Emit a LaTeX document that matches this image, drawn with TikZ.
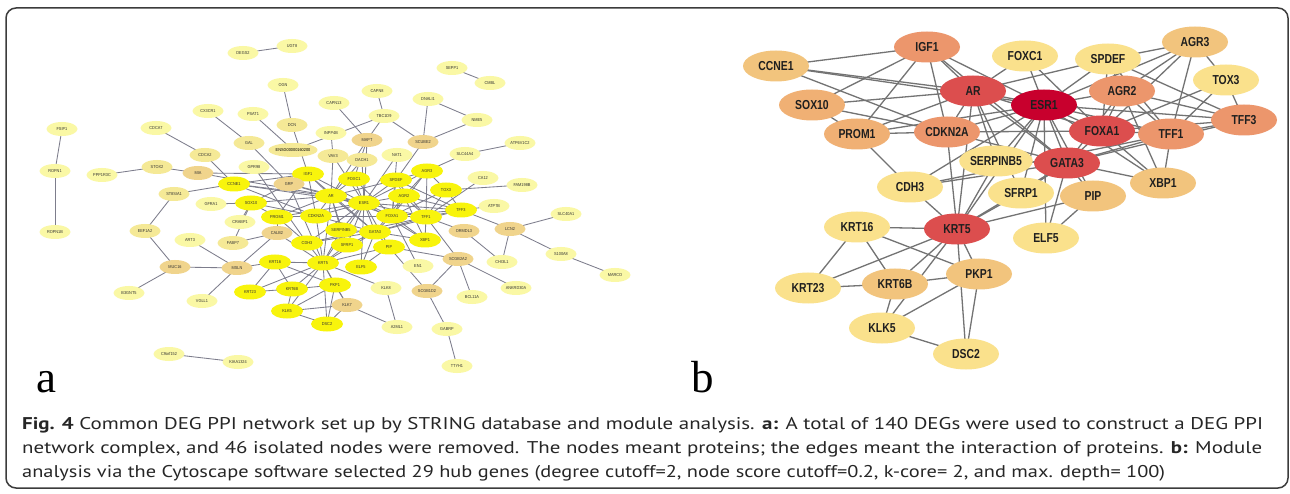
\documentclass[tikz,border=0pt]{standalone}
\usepackage{fontspec}
\usepackage{graphicx}
\setmainfont{PT Sans}
\newfontfamily\nodefont[FakeStretch=0.8]{Liberation Sans}
\newfontfamily\tinyfont[FakeStretch=0.9]{Liberation Sans}
\newfontfamily\labfont{Liberation Serif}
\usetikzlibrary{shapes.geometric}
\pgfdeclarelayer{bg}
\pgfdeclarelayer{edges}
\pgfsetlayers{bg,edges,main}
% panel a colours
\definecolor{cY}{RGB}{248,244,12}
\definecolor{cL}{RGB}{250,248,165}
\definecolor{cM}{RGB}{245,233,150}
\definecolor{cT}{RGB}{240,212,140}
\definecolor{aedgecol}{RGB}{125,125,140}
% panel b colours
\definecolor{bA}{RGB}{200,0,45}
\definecolor{bB}{RGB}{220,78,78}
\definecolor{bC}{RGB}{236,150,108}
\definecolor{bD}{RGB}{240,176,116}
\definecolor{bE}{RGB}{242,196,125}
\definecolor{bF}{RGB}{250,225,140}
\definecolor{bedgecol}{RGB}{115,115,115}
\definecolor{framecol}{RGB}{60,60,60}
\newsavebox{\capbox}
\newcommand{\capline}[2]{\sbox{\capbox}{#2}\scalebox{\fpeval{#1/(\the\wd\capbox)}}[1]{\usebox{\capbox}}}
\tikzset{
  na/.style={ellipse, minimum width=31pt, minimum height=14pt, inner sep=0pt,
    font={\tinyfont\fontsize{4.3pt}{5pt}\selectfont}, text=black!80},
  aY/.style={na, fill=cY, minimum width=32pt, minimum height=15pt},
  aL/.style={na, fill=cL},
  aM/.style={na, fill=cM},
  aT/.style={na, fill=cT},
  nb/.style={ellipse, minimum width=66pt, minimum height=31pt, inner sep=0pt,
    font={\nodefont\bfseries\fontsize{13pt}{15pt}\selectfont}, text=black!88},
  bnA/.style={nb, fill=bA},
  bnB/.style={nb, fill=bB},
  bnC/.style={nb, fill=bC},
  bnD/.style={nb, fill=bD},
  bnE/.style={nb, fill=bE},
  bnF/.style={nb, fill=bF},
  aedge/.style={draw=aedgecol, line width=0.85pt},
  bedge/.style={draw=bedgecol, line width=1.3pt},
  panellab/.style={anchor=base west, font={\labfont\fontsize{45pt}{50pt}\selectfont}},
  capnode/.style={anchor=base west, inner sep=0pt, font={\fontsize{17pt}{20pt}\selectfont}, text=black!85}
}
\def\hubedges{CCNE1/IGF1, CCNE1/AR, CCNE1/ESR1, CCNE1/CDKN2A,
IGF1/SOX10, IGF1/PROM1, IGF1/CDKN2A, IGF1/AR, IGF1/ESR1, IGF1/GATA3,
SOX10/AR, SOX10/PROM1, SOX10/CDKN2A,
PROM1/CDKN2A, PROM1/AR, PROM1/ESR1, PROM1/CDH3,
CDKN2A/AR, CDKN2A/ESR1, CDKN2A/GATA3, CDKN2A/FOXA1, CDKN2A/KRT5,
AR/FOXC1, AR/ESR1, AR/GATA3, AR/FOXA1, AR/KRT5, AR/SERPINB5, AR/SPDEF, AR/SFRP1,
FOXC1/ESR1, FOXC1/FOXA1,
ESR1/SPDEF, ESR1/AGR2, ESR1/AGR3, ESR1/FOXA1, ESR1/TFF1, ESR1/TFF3, ESR1/GATA3, ESR1/XBP1, ESR1/PIP, ESR1/ELF5, ESR1/SFRP1, ESR1/SERPINB5, ESR1/CDH3, ESR1/KRT5,
SPDEF/AGR2, SPDEF/AGR3, SPDEF/FOXA1, SPDEF/TFF1, SPDEF/TFF3,
AGR3/AGR2, AGR3/FOXA1, AGR3/TFF1, AGR3/TOX3,
TOX3/TFF1, TOX3/FOXA1, TOX3/TFF3,
AGR2/FOXA1, AGR2/TFF1, AGR2/TFF3, AGR2/XBP1, AGR2/GATA3,
FOXA1/TFF1, FOXA1/TFF3, FOXA1/GATA3, FOXA1/XBP1,
TFF1/TFF3, TFF1/XBP1, TFF1/GATA3, TFF1/CDH3,
TFF3/GATA3,
GATA3/XBP1, GATA3/PIP, GATA3/ELF5, GATA3/SFRP1, GATA3/SERPINB5, GATA3/CDH3, GATA3/KRT5,
SERPINB5/KRT5, SFRP1/KRT5, CDH3/KRT5, PIP/KRT5, PIP/ELF5,
KRT5/KRT16, KRT5/KRT23, KRT5/KRT6B, KRT5/PKP1, KRT5/KLK5, KRT5/DSC2,
KRT16/KRT23, KRT16/KRT6B, KRT16/PKP1,
KRT23/KRT6B, KRT6B/PKP1, KRT6B/KLK5, PKP1/KLK5, PKP1/DSC2, KLK5/DSC2}
\def\aedges{DEGS2/UGT8, SEPP1/CMBL, FSIP1/ROPN1, ROPN1/ROPN1B, C9orf152/KIAA1324,
OGN/DCN, DCN/IGF1, CAPN13/MAPT, CX3CR1/GAL, GAL/GRP, PSAT1/ENSG, ENSG/TBC1D9,
INPP4B/VAV3, VAV3/AR, VAV3/ESR1, CAPN8/TBC1D9, TBC1D9/MAPT, TBC1D9/SCUBE2,
DNALI1/SCUBE2, DNALI1/NME5, NME5/SCUBE2, SCUBE2/SPDEF, MAPT/ESR1, MAPT/FOXC1, MAPT/AR,
NAT1/ESR1, NAT1/FOXA1, DACH1/ESR1, DACH1/AR, SLC44A4/AGR3, SLC44A4/ATP6V1C2,
FAM198B/TOX3, CA12/TFF1, TFF3/LCN2, ATP7B/TFF3, LCN2/SLC40A1, LCN2/CHI3L1, LCN2/S100A8,
S100A8/MARCO, ORMDL3/CHI3L1, TFF1/ORMDL3, TFF1/SCGB2A2, PIP/SCGB2A2, SCGB2A2/SCGB1D2,
SCGB2A2/BCL11A, SCGB2A2/ANKRD30A, PIP/SCGB1D2, FOXA1/EN1, SCGB1D2/GABRP, GABRP/TTYH1,
KLK8/A2ML1, KLK7/A2ML1, KRT5/KLK8, KRT5/KLK7, PKP1/KLK7, KLK5/KLK7, DSC2/KLK7,
MSLN/MUC16, MSLN/ART3, MSLN/VGLL1, MSLN/CALB2, MSLN/KRT16, MUC16/EEF1A2, MUC16/B3GNT5,
EEF1A2/ST8SIA1, ST8SIA1/CCNE1, GFRA1/SOX10, CRABP1/SOX10, FABP7/SOX10, FABP7/CALB2,
CALB2/PROM1, CALB2/KRT5, STOX2/PPP1R3C, STOX2/MIA, MIA/IGF1, MIA/AR, CDCA7/CDCA2,
CDCA2/CCNE1, GRP/AR, GRP/ESR1, GRP/KRT5, GPR98/CDH3}
\begin{document}
\begin{tikzpicture}[x=1pt,y=-1pt]
\useasboundingbox (0,0) rectangle (1290,494);
\begin{pgfonlayer}{bg}
\fill[white] (0,0) rectangle (1290,494);
\end{pgfonlayer}
\draw[framecol, line width=1.5pt, rounded corners=10pt] (6,8) rectangle (1288,488);

%%% ---------------- panel a ----------------
% hub genes
\node[aY] (a-IGF1) at (308,174) {IGF1};
\node[aY] (a-CCNE1) at (234,184) {CCNE1};
\node[aY] (a-AR) at (331,196) {AR};
\node[aY] (a-FOXC1) at (354,179) {FOXC1};
\node[aY] (a-SPDEF) at (396,180) {SPDEF};
\node[aY] (a-AGR3) at (427,171) {AGR3};
\node[aY] (a-TOX3) at (446,190) {TOX3};
\node[aY] (a-AGR2) at (404,196) {AGR2};
\node[aY] (a-ESR1) at (364,203) {ESR1};
\node[aY] (a-SOX10) at (251,203) {SOX10};
\node[aY] (a-PROM1) at (277,217) {PROM1};
\node[aY] (a-CDKN2A) at (316,216) {CDKN2A};
\node[aY] (a-SERPINB5) at (341,230) {SERPINB5};
\node[aY] (a-CDH3) at (307,243) {CDH3};
\node[aY] (a-SFRP1) at (347,245) {SFRP1};
\node[aY] (a-GATA3) at (375,232) {GATA3};
\node[aY] (a-FOXA1) at (392,216) {FOXA1};
\node[aY] (a-TFF1) at (426,217) {TFF1};
\node[aY] (a-TFF3) at (461,210) {TFF3};
\node[aY] (a-XBP1) at (425,240) {XBP1};
\node[aY] (a-PIP) at (389,247) {PIP};
\node[aY] (a-ELF5) at (361,267) {ELF5};
\node[aY] (a-KRT16) at (275,262) {KRT16};
\node[aY] (a-KRT5) at (323,263) {KRT5};
\node[aY] (a-KRT23) at (250,292) {KRT23};
\node[aY] (a-KRT6B) at (292,289) {KRT6B};
\node[aY] (a-PKP1) at (335,285) {PKP1};
\node[aY] (a-KLK5) at (287,311) {KLK5};
\node[aY] (a-DSC2) at (327,324) {DSC2};
% other genes
\node[aL] (a-DEGS2) at (243,53) {DEGS2};
\node[aL] (a-UGT8) at (292,46) {UGT8};
\node[aL] (a-OGN) at (283,85) {OGN};
\node[aL] (a-CAPN13) at (334,103) {CAPN13};
\node[aL] (a-CX3CR1) at (208,111) {CX3CR1};
\node[aL] (a-PSAT1) at (253,114) {PSAT1};
\node[aM] (a-DCN) at (292,125) {DCN};
\node[aL] (a-INPP4B) at (331,133) {INPP4B};
\node[aL] (a-FSIP1) at (62,129) {FSIP1};
\node[aL] (a-CDCA7) at (156,128) {CDCA7};
\node[aM] (a-GAL) at (249,143) {GAL};
\node[aM, text=black] (a-ENSG) at (293,150) {ENSG00000160200};
\node[aM] (a-VAV3) at (333,156) {VAV3};
\node[aM] (a-CDCA2) at (205,155) {CDCA2};
\node[aL] (a-ROPN1) at (55,171) {ROPN1};
\node[aL] (a-PPP1R3C) at (102,175) {PPP1R3C};
\node[aM] (a-STOX2) at (157,167) {STOX2};
\node[aT] (a-MIA) at (198,173) {MIA};
\node[aL] (a-GPR98) at (254,167) {GPR98};
\node[aT] (a-GRP) at (289,184) {GRP};
\node[aM] (a-ST8SIA1) at (174,194) {ST8SIA1};
\node[aL] (a-SEPP1) at (452,68) {SEPP1};
\node[aL] (a-CMBL) at (490,83) {CMBL};
\node[aL] (a-CAPN8) at (377,91) {CAPN8};
\node[aL] (a-DNALI1) at (428,99) {DNALI1};
\node[aL] (a-TBC1D9) at (384,116) {TBC1D9};
\node[aL] (a-NME5) at (477,120) {NME5};
\node[aT] (a-MAPT) at (367,140) {MAPT};
\node[aT] (a-SCUBE2) at (423,142) {SCUBE2};
\node[aL] (a-ATP6V1C2) at (520,143) {ATP6V1C2};
\node[aL] (a-NAT1) at (397,155) {NAT1};
\node[aL] (a-SLC44A4) at (465,154) {SLC44A4};
\node[aM] (a-DACH1) at (362,160) {DACH1};
\node[aL] (a-CA12) at (483,178) {CA12};
\node[aL] (a-FAM198B) at (522,185) {FAM198B};
\node[aL] (a-GFRA1) at (211,204) {GFRA1};
\node[aL] (a-CRABP1) at (240,222) {CRABP1};
\node[aM] (a-EEF1A2) at (145,231) {EEF1A2};
\node[aT] (a-CALB2) at (277,233) {CALB2};
\node[aM] (a-FABP7) at (233,243) {FABP7};
\node[aL] (a-ART3) at (190,240) {ART3};
\node[aL] (a-ROPN1B) at (55,232) {ROPN1B};
\node[aT] (a-MUC16) at (175,267) {MUC16};
\node[aT] (a-MSLN) at (237,268) {MSLN};
\node[aL] (a-B3GNT5) at (129,293) {B3GNT5};
\node[aL] (a-VGLL1) at (202,301) {VGLL1};
\node[aT] (a-KLK7) at (347,305) {KLK7};
\node[aL] (a-C9orf152) at (169,354) {C9orf152};
\node[aL] (a-KIAA1324) at (238,362) {KIAA1324};
\node[aL] (a-ATP7B) at (494,206) {ATP7B};
\node[aL] (a-SLC40A1) at (566,214) {SLC40A1};
\node[aT] (a-LCN2) at (510,229) {LCN2};
\node[aT] (a-ORMDL3) at (464,231) {ORMDL3};
\node[aL] (a-S100A8) at (561,254) {S100A8};
\node[aT] (a-SCGB2A2) at (458,259) {SCGB2A2};
\node[aL] (a-CHI3L1) at (502,262) {CHI3L1};
\node[aL] (a-EN1) at (418,266) {EN1};
\node[aL] (a-MARCO) at (615,275) {MARCO};
\node[aL] (a-KLK8) at (386,288) {KLK8};
\node[aL] (a-ANKRD30A) at (516,288) {ANKRD30A};
\node[aT] (a-SCGB1D2) at (427,291) {SCGB1D2};
\node[aL] (a-BCL11A) at (472,297) {BCL11A};
\node[aL] (a-A2ML1) at (397,327) {A2ML1};
\node[aL] (a-GABRP) at (447,329) {GABRP};
\node[aL] (a-TTYH1) at (457,366) {TTYH1};

%%% ---------------- panel b ----------------
\node[bnC] (b-IGF1) at (927,47) {IGF1};
\node[bnF] (b-FOXC1) at (1025,56) {FOXC1};
\node[bnF] (b-SPDEF) at (1108,59) {SPDEF};
\node[bnE] (b-AGR3) at (1195,42) {AGR3};
\node[bnF] (b-TOX3) at (1226,80) {TOX3};
\node[bnE] (b-CCNE1) at (776,66) {CCNE1};
\node[bnB] (b-AR) at (973,91) {AR};
\node[bnA] (b-ESR1) at (1044,105) {ESR1};
\node[bnC] (b-AGR2) at (1122,91) {AGR2};
\node[bnD] (b-SOX10) at (812,105) {SOX10};
\node[bnC] (b-TFF3) at (1244,120) {TFF3};
\node[bnB] (b-FOXA1) at (1102,131) {FOXA1};
\node[bnC] (b-TFF1) at (1171,134) {TFF1};
\node[bnD] (b-PROM1) at (857,134) {PROM1};
\node[bnC] (b-CDKN2A) at (947,132) {CDKN2A};
\node[bnF] (b-SERPINB5) at (996,161) {SERPINB5};
\node[bnB] (b-GATA3) at (1067,163) {GATA3};
\node[bnE] (b-XBP1) at (1163,183) {XBP1};
\node[bnF] (b-CDH3) at (910,187) {CDH3};
\node[bnF] (b-SFRP1) at (1021,193) {SFRP1};
\node[bnE] (b-PIP) at (1093,196) {PIP};
\node[bnF] (b-ELF5) at (1046,238) {ELF5};
\node[bnF] (b-KRT16) at (857,227) {KRT16};
\node[bnB] (b-KRT5) at (957,229) {KRT5};
\node[bnE] (b-PKP1) at (979,274) {PKP1};
\node[bnF] (b-KRT23) at (808,288) {KRT23};
\node[bnE] (b-KRT6B) at (895,284) {KRT6B};
\node[bnF] (b-KLK5) at (882,328) {KLK5};
\node[bnF] (b-DSC2) at (966,354) {DSC2};

%%% ---------------- connectors ----------------
\begin{pgfonlayer}{edges}
\foreach \u/\v in \hubedges {
  \draw[aedge] (a-\u.center) -- (a-\v.center);
  \draw[bedge] (b-\u.center) -- (b-\v.center);
}
\foreach \u/\v in \aedges {
  \draw[aedge] (a-\u.center) -- (a-\v.center);
}
\end{pgfonlayer}

%%% ---------------- labels and caption ----------------
\node[panellab] (laba) at (33,392) {a};
\node[panellab] (labb) at (688,392) {b};
\node[capnode] (cap1) at (22,429) {\capline{1241}{\textbf{Fig. 4} Common DEG PPI network set up by STRING database and module analysis. \textbf{a:} A total of 140 DEGs were used to construct a DEG PPI}};
\node[capnode] (cap2) at (22,453) {\capline{1240}{network complex, and 46 isolated nodes were removed. The nodes meant proteins; the edges meant the interaction of proteins. \textbf{b:} Module}};
\node[capnode] (cap3) at (22,477) {\capline{1143}{analysis via the Cytoscape software selected 29 hub genes (degree cutoff=2, node score cutoff=0.2, k-core= 2, and max. depth= 100)}};
\end{tikzpicture}
\end{document}
